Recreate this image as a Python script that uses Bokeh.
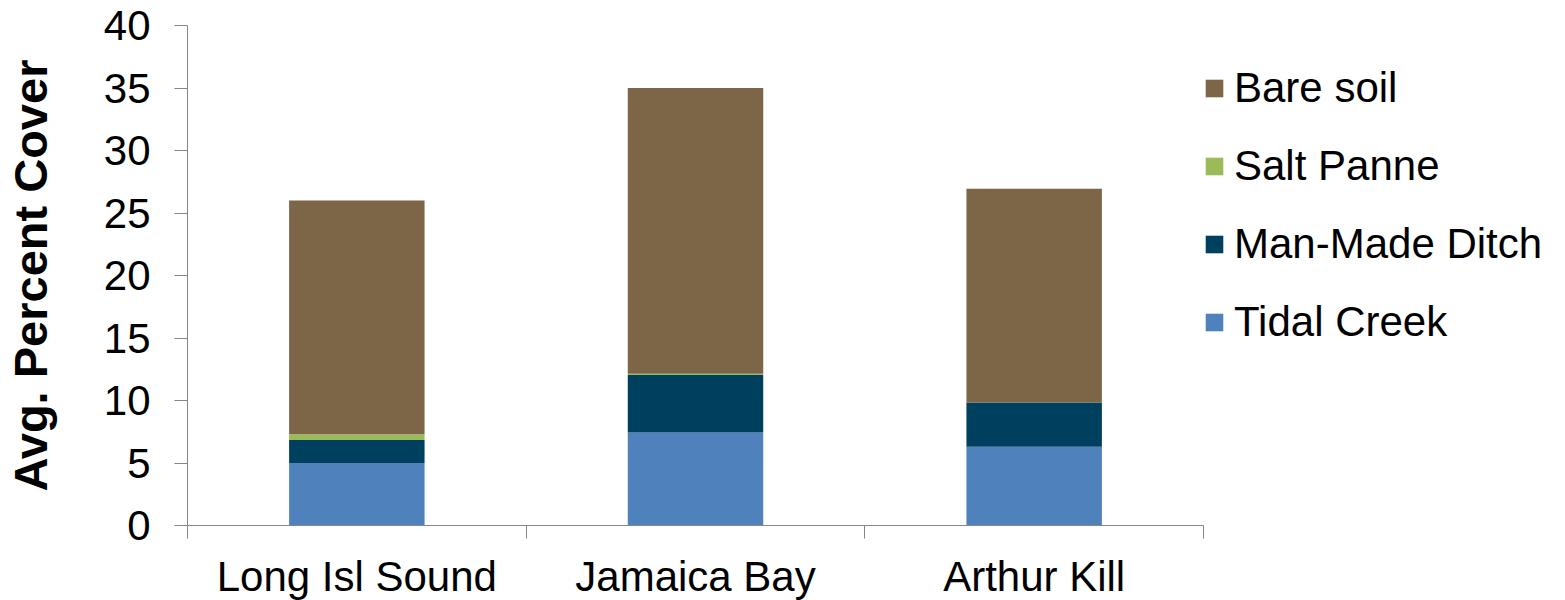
from bokeh.plotting import figure
from bokeh.models import ColumnDataSource, Legend, LegendItem, FixedTicker, Range1d
from bokeh.embed import file_html
from bokeh.resources import INLINE

# ---- data ----
sites = ["Long Isl Sound", "Jamaica Bay", "Arthur Kill"]
tidal_creek = [5.0, 7.45, 6.3]
man_made_ditch = [1.85, 4.6, 3.55]
salt_panne = [0.45, 0.1, 0.0]
bare_soil = [18.7, 22.85, 17.1]
series = ["Tidal Creek", "Man-Made Ditch", "Salt Panne", "Bare soil"]
colors = ["#4F81BD", "#00405F", "#9BBB59", "#7D6647"]
y_ticks = [0, 5, 10, 15, 20, 25, 30, 35, 40]

FONT = "Liberation Sans"

centers = [i + 0.5 for i in range(len(sites))]
source = ColumnDataSource(dict(
    x=centers,
    **{"Tidal Creek": tidal_creek, "Man-Made Ditch": man_made_ditch,
       "Salt Panne": salt_panne, "Bare soil": bare_soil}))

p = figure(frame_width=1016, frame_height=500, output_backend="svg", toolbar_location=None,
           x_range=Range1d(0, len(sites)), y_range=Range1d(0, 40),
           min_border_left=187, min_border_right=362, min_border_top=25,
           min_border_bottom=75)
p.outline_line_color = None
p.xgrid.grid_line_color = None
p.ygrid.grid_line_color = None
p.background_fill_color = "white"
p.border_fill_color = "white"

renderers = p.vbar_stack(series, x="x", width=0.4, color=colors, source=source,
                         line_color=None)

# y axis
ya = p.yaxis[0]
ya.ticker = FixedTicker(ticks=y_ticks)
ya.axis_label = "Avg. Percent Cover"
ya.axis_label_text_font = FONT
ya.axis_label_text_font_style = "bold"
ya.axis_label_text_font_size = "47px"
ya.axis_label_text_color = "black"
ya.axis_label_standoff = 44
ya.major_label_text_font = FONT
ya.major_label_text_font_size = "42px"
ya.major_label_text_color = "black"
ya.major_label_standoff = 24
ya.major_tick_out = 13
ya.major_tick_in = 0
ya.minor_tick_line_color = None
ya.axis_line_color = "#868686"
ya.major_tick_line_color = "#868686"

# x axis
xa = p.xaxis[0]
xa.ticker = FixedTicker(ticks=centers, minor_ticks=list(range(len(sites) + 1)))
xa.major_label_overrides = {c: s for c, s in zip(centers, sites)}
xa.major_label_text_font = FONT
xa.major_label_text_font_size = "42px"
xa.major_label_text_color = "black"
xa.major_tick_line_color = None
xa.major_tick_out = 13
xa.major_label_standoff = 14
xa.minor_tick_out = 13
xa.minor_tick_in = 0
xa.minor_tick_line_color = "#868686"
xa.axis_line_color = "#868686"

items = [LegendItem(label=s, renderers=[r]) for s, r in zip(series, renderers)][::-1]
legend = Legend(items=items, location=(0, 179), orientation="vertical",
                glyph_width=22, glyph_height=22, label_standoff=9,
                label_text_font=FONT, label_text_font_size="42px",
                label_text_color="black", spacing=30, padding=0, margin=0,
                border_line_color=None, background_fill_alpha=0)
p.add_layout(legend, "right")

open("out.html", "w").write(file_html(p, INLINE))
